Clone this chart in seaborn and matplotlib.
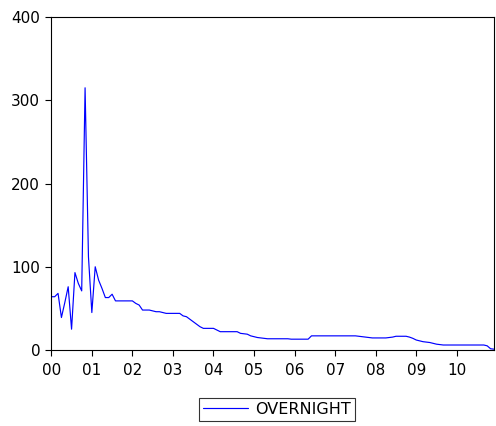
import matplotlib
matplotlib.use("Agg")
import matplotlib.pyplot as plt
import seaborn as sns
import numpy as np
import pandas as pd

# monthly overnight rate, 2000M01 - 2010M12
overnight = [
    64, 64, 68, 39, 57, 76, 25, 93, 80, 71, 315, 112,          # 2000
    45, 100, 84, 74, 63, 63, 67, 59, 59, 59, 59, 59,           # 2001
    59, 56, 54, 48, 48, 48, 47, 46, 46, 45, 44, 44,            # 2002
    44, 44, 44, 41, 40, 37, 34, 31, 28, 26, 26, 26,            # 2003
    26, 24, 22, 22, 22, 22, 22, 22, 20, 19.5, 19, 17,          # 2004
    16, 15, 14.5, 14, 13.5, 13.5, 13.5, 13.5, 13.5, 13.5, 13.5, 13,  # 2005
    13, 13, 13, 13, 13, 17, 17, 17, 17, 17, 17, 17,            # 2006
    17, 17, 17, 17, 17, 17, 17, 16.5, 16, 15.5, 15, 14.5,      # 2007
    14.5, 14.5, 14.5, 14.5, 15, 15.5, 16.5, 16.5, 16.5, 16.5, 15.5, 14,  # 2008
    12, 11, 10, 9.5, 9, 8, 7, 6.5, 6, 6, 6, 6,                 # 2009
    6, 6, 6, 6, 6, 6, 6, 6, 6, 5, 1.5, 1,                      # 2010
]
years = list(range(2000, 2011))
year_labels = ["00", "01", "02", "03", "04", "05", "06", "07", "08", "09", "10"]
y_ticks = [0, 100, 200, 300, 400]

df = pd.DataFrame({
    "t": 2000 + np.arange(len(overnight)) / 12.0,
    "OVERNIGHT": overnight,
})

sns.set_style("ticks")
plt.rcParams["font.family"] = ["DejaVu Sans"]
plt.rcParams["text.color"] = "black"

fig = plt.figure(figsize=(4.96, 4.26), dpi=100)
ax = fig.add_axes([0.1034, 0.1784, 0.8925, 0.7816])

sns.lineplot(data=df, x="t", y="OVERNIGHT", color="#0000ff", linewidth=0.85,
             label="OVERNIGHT", ax=ax)

ax.set_xlim(df["t"].iloc[0], df["t"].iloc[-1])
ax.set_ylim(0, 400)
ax.set_xticks(years)
ax.set_xticklabels(year_labels)
ax.set_yticks(y_ticks)
ax.set_xlabel("")
ax.set_ylabel("")
ax.tick_params(axis="both", direction="out", length=4, width=0.8,
               color="black", labelsize=11, labelcolor="black")
ax.tick_params(axis="x", pad=5)
ax.tick_params(axis="y", pad=4)
for s in ax.spines.values():
    s.set_visible(True)
    s.set_color("black")
    s.set_linewidth(0.8)

leg = ax.legend(loc="upper center", bbox_to_anchor=(0.51, -0.12), frameon=True,
                fancybox=False, fontsize=11.5, handlelength=2.8,
                borderpad=0.25, handletextpad=0.5, labelcolor="black")
leg.get_frame().set_edgecolor("black")
leg.get_frame().set_linewidth(0.8)

fig.savefig("out.png", dpi=100)
